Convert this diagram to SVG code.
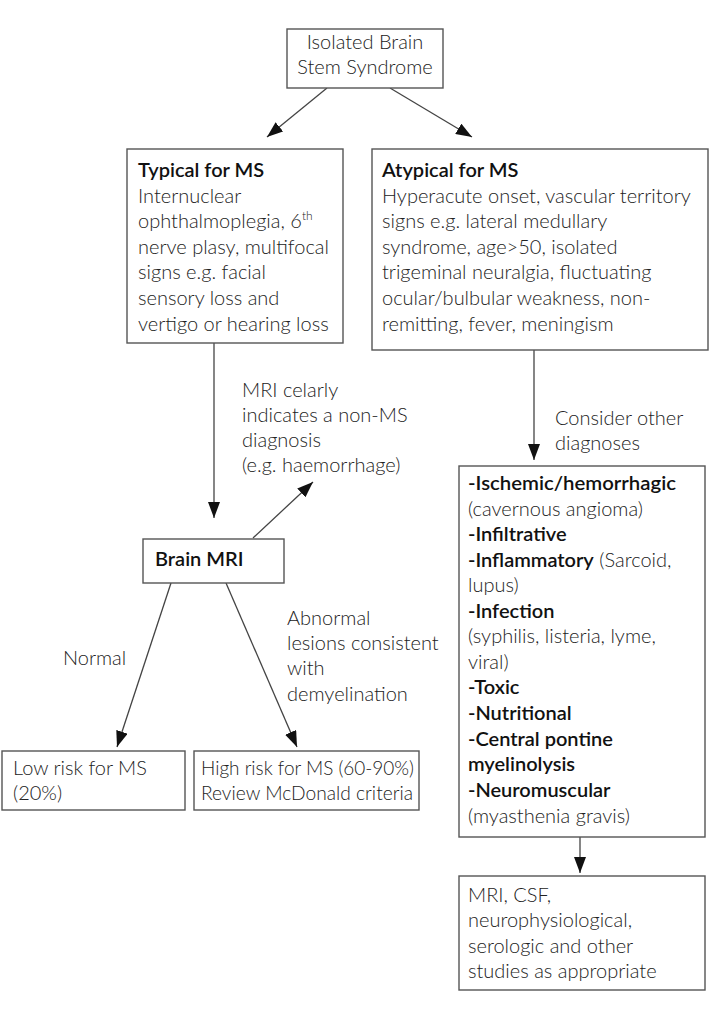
<svg xmlns="http://www.w3.org/2000/svg" width="716" height="1014" viewBox="0 0 716 1014">
<style>
.box{fill:#fff;stroke:#555;stroke-width:1.4}
.t{font-family:Lato,"Open Sans",sans-serif;font-size:20px;font-weight:300;fill:#222}
.b{font-weight:600;fill:#111}
.c{stroke:#444;stroke-width:1.3;fill:none;marker-end:url(#ah)}
</style>
<defs>
<marker id="ah" markerUnits="userSpaceOnUse" markerWidth="16" markerHeight="12" refX="16" refY="6" orient="auto">
<path d="M0,0 L16,6 L0,12 z" fill="#111"/>
</marker>
</defs>
<rect width="716" height="1014" fill="#fff"/>
<g id="connectors">
<line class="c" x1="327" y1="88" x2="267" y2="137"/>
<line class="c" x1="390" y1="88" x2="472" y2="137"/>
<line class="c" x1="214" y1="343" x2="214" y2="518"/>
<line class="c" x1="253" y1="538" x2="313" y2="482"/>
<line class="c" x1="171" y1="583" x2="117" y2="747"/>
<line class="c" x1="226" y1="583" x2="297" y2="747"/>
<line class="c" x1="534" y1="350" x2="534" y2="460"/>
<line class="c" x1="580" y1="837" x2="580" y2="873"/>
</g>
<g id="labels">
<text class="t" x="242" y="397">MRI celarly</text>
<text class="t" x="242" y="422">indicates a non-MS</text>
<text class="t" x="242" y="447">diagnosis</text>
<text class="t" x="242" y="472">(e.g. haemorrhage)</text>
<text class="t" x="63" y="665">Normal</text>
<text class="t" x="287" y="625">Abnormal</text>
<text class="t" x="287" y="650">lesions consistent</text>
<text class="t" x="287" y="675">with</text>
<text class="t" x="287" y="701">demyelination</text>
<text class="t" x="555" y="425">Consider other</text>
<text class="t" x="555" y="450">diagnoses</text>
</g>
<g id="start">
<rect class="box" x="287" y="29" width="156" height="59"/>
<text class="t" x="365" y="49" text-anchor="middle">Isolated Brain</text>
<text class="t" x="365" y="74" text-anchor="middle">Stem Syndrome</text>
</g>
<g id="typical">
<rect class="box" x="127" y="149" width="216" height="194"/>
<text class="t b" x="138" y="177">Typical for MS</text>
<text class="t" x="138" y="203">Internuclear</text>
<text class="t" x="138" y="228">ophthalmoplegia, 6<tspan font-size="12" dy="-8">th</tspan></text>
<text class="t" x="138" y="254">nerve plasy, multifocal</text>
<text class="t" x="138" y="279">signs e.g. facial</text>
<text class="t" x="138" y="305">sensory loss and</text>
<text class="t" x="138" y="331">vertigo or hearing loss</text>
</g>
<g id="atypical">
<rect class="box" x="372" y="149" width="336" height="201"/>
<text class="t b" x="382" y="177">Atypical for MS</text>
<text class="t" x="382" y="203">Hyperacute onset, vascular territory</text>
<text class="t" x="382" y="228">signs e.g. lateral medullary</text>
<text class="t" x="382" y="254">syndrome, age&gt;50, isolated</text>
<text class="t" x="382" y="279">trigeminal neuralgia, fluctuating</text>
<text class="t" x="382" y="305">ocular/bulbular weakness, non-</text>
<text class="t" x="382" y="331">remitting, fever, meningism</text>
</g>
<g id="brain-mri">
<rect class="box" x="143" y="539" width="141" height="44"/>
<text class="t b" x="155" y="566">Brain MRI</text>
</g>
<g id="low-risk">
<rect class="box" x="2" y="751" width="183" height="59"/>
<text class="t" x="13" y="775">Low risk for MS</text>
<text class="t" x="13" y="800">(20%)</text>
</g>
<g id="high-risk">
<rect class="box" x="194" y="751" width="225" height="59"/>
<text class="t" x="201" y="775" textLength="213" lengthAdjust="spacingAndGlyphs">High risk for MS (60-90%)</text>
<text class="t" x="201" y="800" textLength="212" lengthAdjust="spacingAndGlyphs">Review McDonald criteria</text>
</g>
<g id="other-diagnoses">
<rect class="box" x="459" y="466" width="246" height="371"/>
<text class="t b" x="468" y="490" textLength="208" lengthAdjust="spacingAndGlyphs">-Ischemic/hemorrhagic</text>
<text class="t" x="468" y="516">(cavernous angioma)</text>
<text class="t b" x="468" y="541">-Infiltrative</text>
<text class="t" x="468" y="567"><tspan class="b">-Inflammatory</tspan> (Sarcoid,</text>
<text class="t" x="468" y="592">lupus)</text>
<text class="t b" x="468" y="618">-Infection</text>
<text class="t" x="468" y="643">(syphilis, listeria, lyme,</text>
<text class="t" x="468" y="669">viral)</text>
<text class="t b" x="468" y="694">-Toxic</text>
<text class="t b" x="468" y="720">-Nutritional</text>
<text class="t b" x="468" y="746">-Central pontine</text>
<text class="t b" x="468" y="771">myelinolysis</text>
<text class="t b" x="468" y="797">-Neuromuscular</text>
<text class="t" x="468" y="823">(myasthenia gravis)</text>
</g>
<g id="studies">
<rect class="box" x="459" y="876" width="246" height="114"/>
<text class="t" x="468" y="902">MRI, CSF,</text>
<text class="t" x="468" y="927">neurophysiological,</text>
<text class="t" x="468" y="953">serologic and other</text>
<text class="t" x="468" y="978">studies as appropriate</text>
</g>
</svg>
